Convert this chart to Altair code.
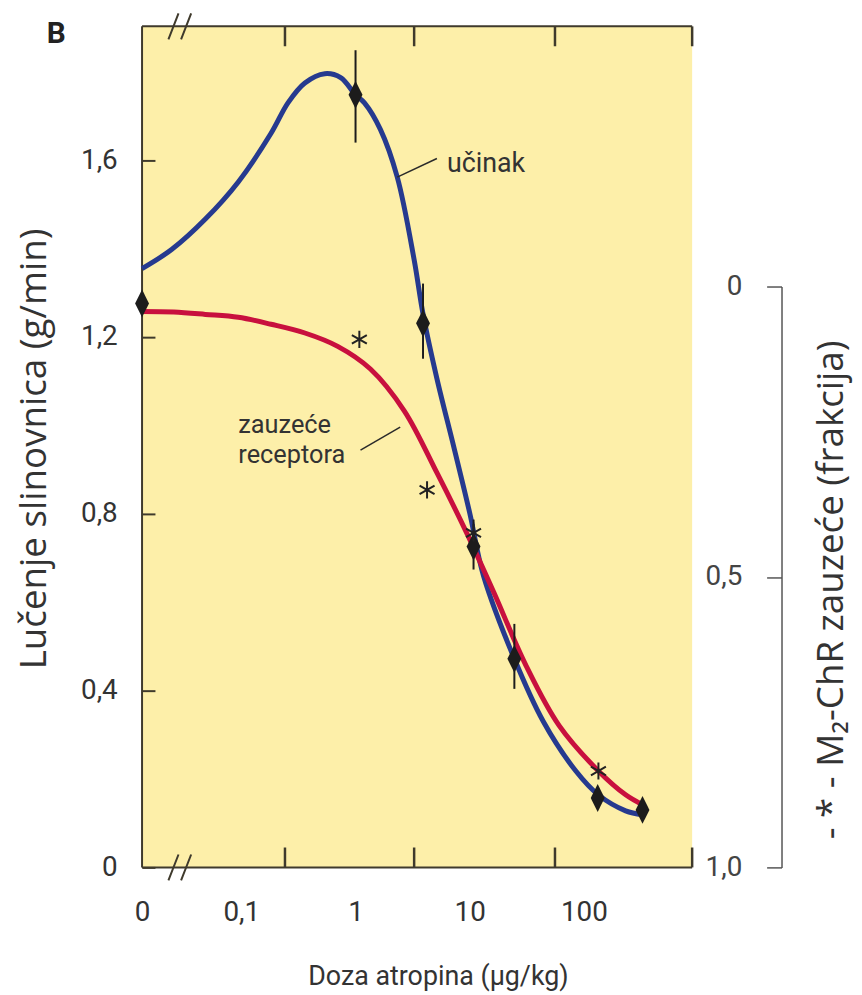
import altair as alt
import pandas as pd

# ---------------- data ----------------
X0 = 0.0135      # stand-in for the "0" dose on the log axis (left edge)
XMAX = 887.0     # right edge of the dose axis
YMAX = 1.903     # top of the salivation axis

# effect curve (učinak), salivation g/min
eff_dose = [X0, 0.0245, 0.0484, 0.094, 0.182, 0.256, 0.36, 0.538, 0.741, 1.0,
            1.197, 1.65, 2.32, 3.26, 3.9, 5.16, 7.26, 10.0, 13.2, 24.6,
            44.1, 85.0, 134.0, 232.0, 326.0]
eff_val = [1.355, 1.398, 1.467, 1.551, 1.661, 1.730, 1.775, 1.796, 1.787, 1.748,
           1.730, 1.670, 1.562, 1.375, 1.252, 1.106, 0.951, 0.802, 0.660, 0.472,
           0.330, 0.218, 0.164, 0.128, 0.119]

# receptor occupancy curve (zauzeće receptora), fraction
rec_dose = [X0, 0.0256, 0.0484, 0.094, 0.182, 0.36, 0.698, 1.35, 2.67, 5.17,
            9.40, 16.2, 31.2, 60.7, 134.0, 232.0, 326.0]
rec_occ = [0.043, 0.044, 0.048, 0.053, 0.065, 0.080, 0.103, 0.142, 0.214, 0.321,
           0.424, 0.526, 0.653, 0.756, 0.834, 0.875, 0.892]

# measured salivation (diamonds) and error bars
pt_dose = [X0, 1.0, 3.9, 10.8, 24.6, 132.0, 326.0]
pt_val = [1.276, 1.748, 1.231, 0.726, 0.472, 0.157, 0.130]
err_dose = [1.0, 3.9, 10.8, 24.6]
err_lo = [1.640, 1.151, 0.674, 0.404]
err_hi = [1.849, 1.321, 0.787, 0.551]

# measured occupancy (asterisks)
ast_dose = [1.08, 4.23, 10.8, 134.0]
ast_occ = [0.091, 0.350, 0.424, 0.834]

# axes
x_label_values = [X0, 0.1, 1, 10, 100]
minor_tick_dose = [0.241, 3.26, 55.8, XMAX]
sal_ticks = [0, 0.4, 0.8, 1.2, 1.6]
occ_ticks = [0, 0.5, 1.0]
break_dose = [0.0289, 0.0289]
break_val = [0.0, YMAX]

# annotations
curve_text = ["učinak"]
curve_text_dose = [6.31]
curve_text_val = [1.573]
rec_text = ["zauzeće", "receptora"]
rec_text_dose = [0.094, 0.094]
rec_text_val = [0.984, 0.915]
panel_text = ["B"]
panel_text_dose = [0.00198]
panel_text_val = [1.865]
lead_dose = [2.32, 1.105]
lead_dose2 = [5.16, 2.46]
lead_val = [1.562, 0.944]
lead_val2 = [1.604, 0.996]

# ---------------- styling ----------------
NARROW = "Roboto"
WIDE = "Open Sans"
BLUE = "#263a8f"
RED = "#c8103e"
FRAME = "#3f3a2c"
TEXT = "#333333"
BG = "#fdefa9"
TICKLEN = 0.045
DIAMOND = "M0,-1L0.5,0L0,1L-0.5,0Z"
ASTER = "M0,-1L0,1M-0.87,-0.5L0.87,0.5M-0.87,0.5L0.87,-0.5"
SLASHES = "M-0.88,1L-0.1,-1M0.1,1L0.88,-1"

eff_df = pd.DataFrame({"dose": eff_dose, "val": eff_val})
rec_df = pd.DataFrame({"dose": rec_dose, "val": rec_occ})
pt_df = pd.DataFrame({"dose": pt_dose, "val": pt_val})
err_df = pd.DataFrame({"dose": err_dose, "val": err_lo, "val2": err_hi})
ast_df = pd.DataFrame({"dose": ast_dose, "val": ast_occ})
frame_df = pd.DataFrame({"dose": [X0, X0, X0], "dose2": [X0, XMAX, XMAX],
                         "val": [0, YMAX, 0], "val2": [YMAX, YMAX, 0]})
tick_df = pd.DataFrame({
    "dose": minor_tick_dose + minor_tick_dose,
    "val": [0.0] * len(minor_tick_dose) + [YMAX] * len(minor_tick_dose),
    "val2": [TICKLEN] * len(minor_tick_dose) + [YMAX - TICKLEN] * len(minor_tick_dose),
})
break_df = pd.DataFrame({"dose": break_dose, "val": break_val})
curve_text_df = pd.DataFrame({"dose": curve_text_dose, "val": curve_text_val, "label": curve_text})
rec_text_df = pd.DataFrame({"dose": rec_text_dose, "val": rec_text_val, "label": rec_text})
panel_df = pd.DataFrame({"dose": panel_text_dose, "val": panel_text_val, "label": panel_text})
lead_df = pd.DataFrame({"dose": lead_dose, "dose2": lead_dose2, "val": lead_val, "val2": lead_val2})

x_scale = alt.Scale(type="log", domain=[X0, XMAX], nice=False)
x_axis = alt.Axis(
    values=x_label_values,
    labelExpr="datum.value < 0.05 ? '0' : replace(format(datum.value, '~g'), '.', ',')",
    ticks=False, tickSize=0, domain=False, grid=False,
    labelFont=NARROW, labelFontSize=28, labelColor=TEXT, labelBaseline="alphabetic",
    labelPadding=53, labelFlush=False, labelOverlap=False,
    title="Doza atropina (µg/kg)", titleFont=NARROW, titleFontSize=27,
    titleFontWeight="normal", titleColor=TEXT, titleX=298, titleY=118,
    titleAlign="center", titleBaseline="alphabetic",
)
x_enc = alt.X("dose:Q", scale=x_scale, axis=x_axis)

sal_scale = alt.Scale(domain=[0, YMAX], nice=False, zero=False)
sal_axis = alt.Axis(
    orient="left", offset=-13, values=sal_ticks, tickSize=13, tickWidth=2,
    tickColor=FRAME, domain=False, grid=False,
    labelExpr="replace(format(datum.value, '~g'), '.', ',')",
    labelFont=NARROW, labelFontSize=28, labelPadding=25, labelColor=TEXT,
    labelOverlap=False, labelFlush=False,
    title="Lučenje slinovnica (g/min)", titleFont=WIDE, titleFontSize=37,
    titleFontWeight="normal", titleColor=TEXT, titleX=-121, titleY=425,
    titleAngle=270, titleAlign="center", titleBaseline="middle",
)
occ_scale = alt.Scale(domain=[0, 1], range=[262, 847], nice=False, zero=False)
occ_axis = alt.Axis(
    orient="left", offset=-644, values=occ_ticks, tickSize=15, tickWidth=1.5,
    tickColor="#555555", domain=True, domainColor="#555555", domainWidth=1.5, grid=False,
    labelExpr="datum.value == 0 ? '0' : replace(format(datum.value, '.1f'), '.', ',')",
    labelFont=NARROW, labelFontSize=28, labelPadding=25, labelColor="#444444",
    labelOverlap=False, labelFlush=False,
    title="- * - M₂-ChR zauzeće (frakcija)", titleFont=WIDE, titleFontSize=37,
    titleFontWeight="normal", titleColor=TEXT, titleX=50, titleY=567,
    titleAngle=270, titleAlign="center", titleBaseline="middle",
)

def ys(field="val", axis=None):
    return alt.Y(f"{field}:Q", scale=sal_scale, axis=axis)

def yo(field="val", axis=None):
    return alt.Y(f"{field}:Q", scale=occ_scale, axis=axis)

frame = alt.Chart(frame_df).mark_rule(color=FRAME, strokeWidth=2).encode(
    x=x_enc, x2="dose2:Q", y=ys(axis=sal_axis), y2="val2:Q")
ticks = alt.Chart(tick_df).mark_rule(color=FRAME, strokeWidth=2.5).encode(
    x=x_enc, y=ys(), y2="val2:Q")
breaks = alt.Chart(break_df).mark_point(
    shape=SLASHES, size=676, filled=False, color=FRAME, strokeWidth=2, opacity=1
).encode(x=x_enc, y=ys())
blue = alt.Chart(eff_df).mark_line(color=BLUE, strokeWidth=5, interpolate="catmull-rom").encode(
    x=x_enc, y=ys())
red = alt.Chart(rec_df).mark_line(color=RED, strokeWidth=5, interpolate="catmull-rom").encode(
    x=x_enc, y=yo(axis=occ_axis))
errs = alt.Chart(err_df).mark_rule(color="#1c1c1c", strokeWidth=2).encode(
    x=x_enc, y=ys(), y2="val2:Q")
diamonds = alt.Chart(pt_df).mark_point(
    shape=DIAMOND, size=784, filled=True, color="#1c1c1c", opacity=1
).encode(x=x_enc, y=ys())
asters = alt.Chart(ast_df).mark_point(
    shape=ASTER, size=300, filled=False, color="#222222", strokeWidth=2, opacity=1
).encode(x=x_enc, y=yo())
leads = alt.Chart(lead_df).mark_rule(color="#2a2a2a", strokeWidth=1.5).encode(
    x=x_enc, x2="dose2:Q", y=ys(), y2="val2:Q")
curve_labels = alt.Chart(curve_text_df).mark_text(
    align="left", baseline="alphabetic", font=NARROW, fontSize=27, color=TEXT
).encode(x=x_enc, y=ys(), text="label:N")
rec_labels = alt.Chart(rec_text_df).mark_text(
    align="left", baseline="alphabetic", font=NARROW, fontSize=25.5, color=TEXT
).encode(x=x_enc, y=ys(), text="label:N")
panel_label = alt.Chart(panel_df).mark_text(
    align="left", baseline="alphabetic", font=NARROW, fontSize=30, fontWeight="bold", color="#222222"
).encode(x=x_enc, y=ys(), text="label:N")

chart = alt.layer(
    frame, ticks, breaks, blue, red, errs, diamonds, asters, leads,
    curve_labels, rec_labels, panel_label
).resolve_scale(y="independent").properties(
    width=554, height=847,
    background="white",
    autosize=alt.AutoSizeParams(type="none"),
    padding={"left": 135, "top": 15, "right": 163, "bottom": 124},
).configure_view(fill=BG, stroke=None)

chart.save("out.html", embed_options={"renderer": "svg", "actions": False})
